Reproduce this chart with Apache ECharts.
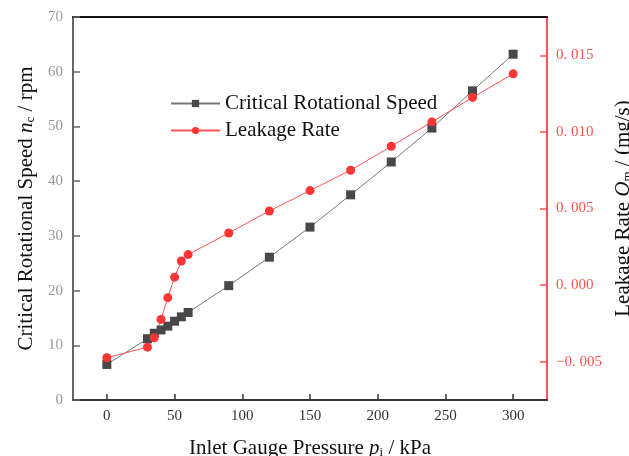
<!DOCTYPE html>
<html>
<head>
<meta charset="utf-8">
<script src="https://cdn.jsdelivr.net/npm/echarts@6/dist/echarts.min.js"></script>
<style>
    html, body { margin: 0; padding: 0; background: #fff; }
    #chart { width: 629px; height: 456px; }
</style>
</head>
<body>
<div id="chart"></div>
<script>
// 数据
const pressure = [0, 30, 35, 40, 45, 50, 55, 60, 90, 120, 150, 180, 210, 240, 270, 300];
const criticalSpeed = [6.5, 11.2, 12.2, 12.8, 13.5, 14.4, 15.2, 16.0, 20.9, 26.1, 31.6, 37.5, 43.5, 49.7, 56.5, 63.2];
const leakageRate = [-0.00474, -0.00405, -0.00344, -0.00224, -0.00082, 0.00052, 0.00157, 0.00199,
    0.0034, 0.00484, 0.00617, 0.0075, 0.00906, 0.01065, 0.01225, 0.01379];
const xTicks = [0, 50, 100, 150, 200, 250, 300];
const rightTicks = [-0.005, 0, 0.005, 0.010, 0.015];

const serif = "'Liberation Serif', 'Times New Roman', serif";
const red = '#ff5252';

const subRich = {
    i: { fontStyle: 'italic', fontSize: 21, fontFamily: serif, color: '#111' },
    sub: { fontSize: 13, fontFamily: serif, color: '#111', verticalAlign: 'bottom', lineHeight: 13 }
};

const chart = echarts.init(document.getElementById('chart'));
const option = {
    animation: false,
    grid: { left: 73, right: 82, top: 17, bottom: 56, outerBoundsMode: 'none', containLabel: false },
    legend: {
        orient: 'vertical',
        left: 165,
        top: 88,
        itemGap: 6,
        itemWidth: 49,
        itemHeight: 9,
        textStyle: { fontSize: 21, fontFamily: serif, color: '#111' },
        data: ['Critical Rotational Speed', 'Leakage Rate']
    },
    xAxis: [{
        type: 'value',
        min: -25,
        max: 325,
        name: 'Inlet Gauge Pressure {i|p}{sub|i} / kPa',
        nameLocation: 'middle',
        nameGap: 38,
        nameTextStyle: { fontSize: 21, fontFamily: serif, color: '#111', rich: subRich },
        axisLine: { onZero: false, lineStyle: { color: '#333', width: 2 } },
        axisTick: { inside: true, length: 6, customValues: xTicks, lineStyle: { color: '#333', width: 1.5 } },
        axisLabel: { customValues: xTicks, fontSize: 15, fontFamily: serif, color: '#333', margin: 9 },
        splitLine: { show: false }
    }, {
        type: 'value',
        position: 'top',
        min: -25,
        max: 325,
        axisLine: { show: true, onZero: false, lineStyle: { color: '#111', width: 2 } },
        axisTick: { show: false },
        axisLabel: { show: false },
        splitLine: { show: false }
    }],
    yAxis: [{
        type: 'value',
        min: 0,
        max: 70,
        interval: 10,
        name: 'Critical Rotational Speed {i|n}{sub|c} / rpm',
        nameLocation: 'middle',
        nameRotate: 90,
        nameGap: 36,
        nameTextStyle: { fontSize: 21, fontFamily: serif, color: '#111', rich: subRich },
        axisLine: { show: true, onZero: false, lineStyle: { color: '#666', width: 2 } },
        axisTick: { inside: true, length: 7, lineStyle: { color: '#666', width: 1.5 } },
        axisLabel: { fontSize: 15, fontFamily: serif, color: '#999', margin: 10 },
        splitLine: { show: false }
    }, {
        type: 'value',
        position: 'right',
        min: -0.0075,
        max: 0.0175,
        name: 'Leakage Rate {i|Q}{sub|m} / (mg/s)',
        nameLocation: 'middle',
        nameRotate: 90,
        nameGap: 62,
        nameTextStyle: { fontSize: 21, fontFamily: serif, color: '#111', rich: subRich },
        axisLine: { show: true, onZero: false, lineStyle: { color: red, width: 2 } },
        axisTick: { inside: true, length: 7, customValues: rightTicks, lineStyle: { color: red, width: 1.5 } },
        axisLabel: {
            customValues: rightTicks,
            fontSize: 15,
            fontFamily: serif,
            color: red,
            margin: 9,
            formatter: v => v.toFixed(3).replace('.', '. ').replace('-', '\u2212')
        },
        splitLine: { show: false }
    }],
    series: [{
        name: 'Critical Rotational Speed',
        type: 'line',
        yAxisIndex: 0,
        data: pressure.map((p, i) => [p, criticalSpeed[i]]),
        symbol: 'rect',
        symbolSize: 9,
        itemStyle: { color: '#484848' },
        lineStyle: { color: '#777', width: 1 }
    }, {
        name: 'Leakage Rate',
        type: 'line',
        yAxisIndex: 1,
        data: pressure.map((p, i) => [p, leakageRate[i]]),
        symbol: 'circle',
        symbolSize: 9,
        itemStyle: { color: '#ff3535' },
        lineStyle: { color: red, width: 1 }
    }]
};
chart.setOption(option);
</script>
</body>
</html>
